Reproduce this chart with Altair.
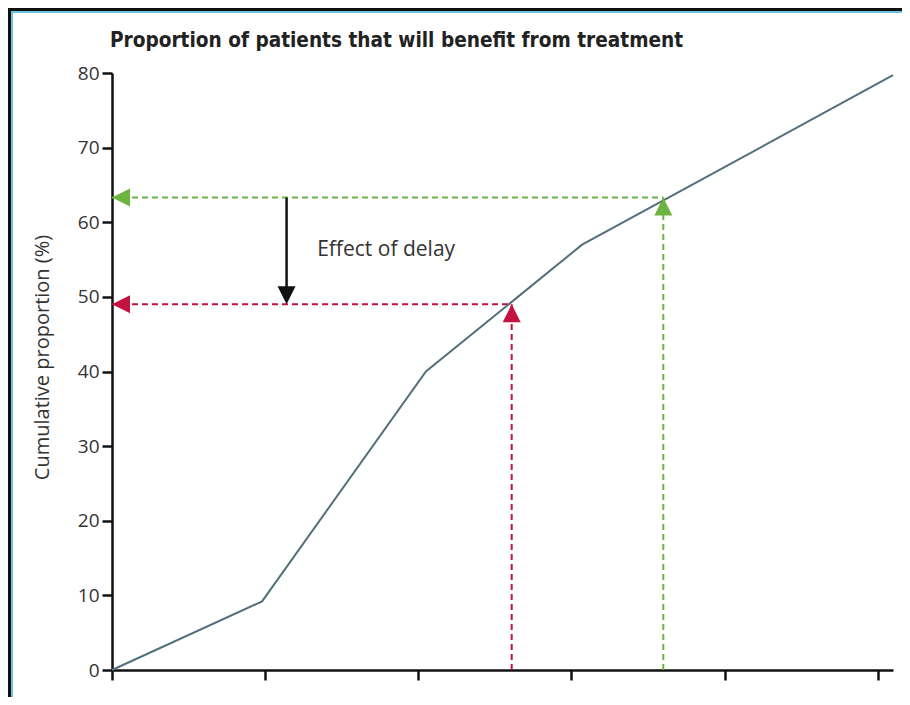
import altair as alt
import pandas as pd

# ---- data ----
curve_x = [0, 0.98, 2.05, 3.07, 5.1]
curve_y = [0, 9.2, 40, 57, 79.7]

no_delay_x, no_delay_y = 3.6, 63.3   # green (treatment without delay)
delay_x, delay_y = 2.61, 49.0        # red (treatment with delay)
effect_x = 1.14
label_x, label_y = 1.34, 56.3
label_text = "Effect of delay"
title_text = "Proportion of patients that will benefit from treatment"

y_ticks = [0, 10, 20, 30, 40, 50, 60, 70, 80]
x_ticks = [0, 1, 2, 3, 4, 5]

GREEN = "#6cb33f"
RED = "#c3123f"
LINE = "#52707c"
FONT = "Open Sans"

xs = alt.Scale(domain=[0, 5.1], nice=False)
ys = alt.Scale(domain=[0, 80], nice=False)

x_axis = alt.Axis(values=x_ticks, labels=False, title="", grid=False,
                  tickSize=10, tickWidth=2.5, domainWidth=2.5,
                  domainColor="#111", tickColor="#111")
y_axis = alt.Axis(values=y_ticks, grid=False, tickSize=10, tickWidth=2.5,
                  domainWidth=2.5, domainColor="#111", tickColor="#111",
                  labelFontSize=19, labelColor="#333", labelFont=FONT,
                  labelPadding=3, title="Cumulative proportion (%)",
                  titleFontSize=20, titleFontWeight="normal", titleColor="#333",
                  titleFont=FONT, titleX=-70, titleY=284, titleAngle=-90,
                  titleAlign="center", titleBaseline="middle")

curve_df = pd.DataFrame({"x": curve_x, "y": curve_y})

line = alt.Chart(curve_df).mark_line(color=LINE, strokeWidth=2).encode(
    x=alt.X("x:Q", scale=xs, axis=x_axis),
    y=alt.Y("y:Q", scale=ys, axis=y_axis),
)

h_df = pd.DataFrame({"x": [0, 0], "x2": [no_delay_x, delay_x],
                     "y": [no_delay_y, delay_y], "c": ["g", "r"]})
v_df = pd.DataFrame({"x": [no_delay_x, delay_x], "y": [0, 0],
                     "y2": [no_delay_y, delay_y], "c": ["g", "r"]})
cscale = alt.Scale(domain=["g", "r"], range=[GREEN, RED])

h_rules = alt.Chart(h_df).mark_rule(strokeWidth=2, strokeDash=[6, 4]).encode(
    x=alt.X("x:Q", scale=xs), x2="x2:Q", y=alt.Y("y:Q", scale=ys),
    color=alt.Color("c:N", scale=cscale, legend=None),
)
v_rules = alt.Chart(v_df).mark_rule(strokeWidth=2, strokeDash=[6, 4]).encode(
    x=alt.X("x:Q", scale=xs), y=alt.Y("y:Q", scale=ys), y2="y2:Q",
    color=alt.Color("c:N", scale=cscale, legend=None),
)

UP = "M0,0L1,2L-1,2Z"
LEFT = "M0,0L2,-1L2,1Z"
DOWN = "M0,0L-1,-2L1,-2Z"

up_df = pd.DataFrame({"x": [no_delay_x, delay_x], "y": [no_delay_y, delay_y], "c": ["g", "r"]})
left_df = pd.DataFrame({"x": [0, 0], "y": [no_delay_y, delay_y], "c": ["g", "r"]})

up_arrows = alt.Chart(up_df).mark_point(shape=UP, filled=True, size=324, opacity=1, strokeWidth=0).encode(
    x=alt.X("x:Q", scale=xs), y=alt.Y("y:Q", scale=ys),
    color=alt.Color("c:N", scale=cscale, legend=None),
)
left_arrows = alt.Chart(left_df).mark_point(shape=LEFT, filled=True, size=324, opacity=1, strokeWidth=0).encode(
    x=alt.X("x:Q", scale=xs), y=alt.Y("y:Q", scale=ys),
    color=alt.Color("c:N", scale=cscale, legend=None),
)

eff_df = pd.DataFrame({"x": [effect_x], "y": [no_delay_y], "y2": [delay_y + 2.2]})
eff_line = alt.Chart(eff_df).mark_rule(color="#111", strokeWidth=2.5).encode(
    x=alt.X("x:Q", scale=xs), y=alt.Y("y:Q", scale=ys), y2="y2:Q",
)
eff_head_df = pd.DataFrame({"x": [effect_x], "y": [delay_y]})
eff_head = alt.Chart(eff_head_df).mark_point(shape=DOWN, filled=True, size=324, opacity=1,
                                             strokeWidth=0, color="#111").encode(
    x=alt.X("x:Q", scale=xs), y=alt.Y("y:Q", scale=ys),
)

label_df = pd.DataFrame({"x": [label_x], "y": [label_y], "t": [label_text]})
label = alt.Chart(label_df).mark_text(align="left", baseline="middle", fontSize=21,
                                      font=FONT, color="#333").encode(
    x=alt.X("x:Q", scale=xs), y=alt.Y("y:Q", scale=ys), text="t:N",
)

title_df = pd.DataFrame({"t": [title_text]})
title = alt.Chart(title_df).mark_text(align="left", baseline="alphabetic", fontSize=20.6,
                                      fontWeight="bold", font="DejaVu Sans Condensed",
                                      color="#222").encode(
    x=alt.value(-2), y=alt.value(-26), text="t:N",
)

# frame decoration (top/left border of the figure)
border_black_top = alt.Chart(curve_df).mark_rule(color="#111", strokeWidth=3).encode(
    x=alt.value(-104), x2=alt.value(800), y=alt.value(-63.5))
border_blue_top = alt.Chart(curve_df).mark_rule(color="#6cc3e0", strokeWidth=2).encode(
    x=alt.value(-101), x2=alt.value(800), y=alt.value(-61))
border_black_left = alt.Chart(curve_df).mark_rule(color="#111", strokeWidth=3).encode(
    x=alt.value(-102.5), y=alt.value(-65), y2=alt.value(640))
border_blue_left = alt.Chart(curve_df).mark_rule(color="#6cc3e0", strokeWidth=2).encode(
    x=alt.value(-100), y=alt.value(-62), y2=alt.value(640))

chart = alt.layer(
    border_black_top, border_blue_top, border_black_left, border_blue_left,
    h_rules, v_rules, line, up_arrows, left_arrows, eff_line, eff_head, label, title,
).properties(
    width=781, height=597,
    autosize=alt.AutoSizeParams(type="none"),
    padding={"left": 104, "top": 65, "right": 9, "bottom": 27},
    background="white",
).configure_view(stroke=None, strokeWidth=0)

chart.save("out.html", embed_options={"renderer": "svg", "actions": False})
